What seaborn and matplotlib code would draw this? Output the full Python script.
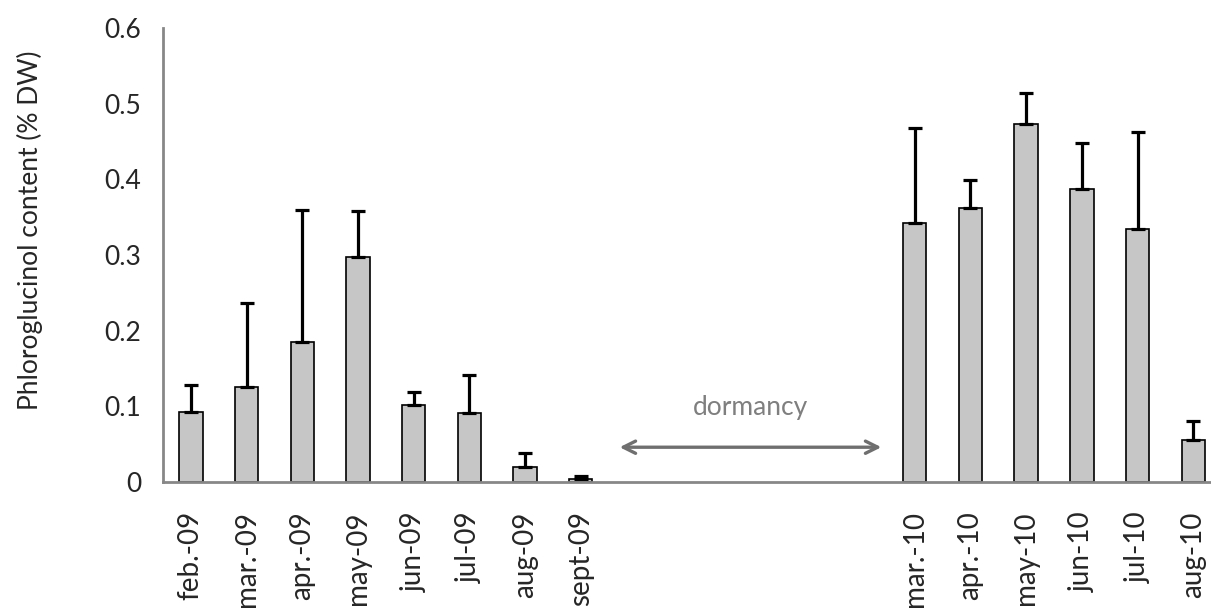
import numpy as np
import pandas as pd
import matplotlib
matplotlib.use("Agg")
import matplotlib.pyplot as plt
import seaborn as sns

# Months on the category axis (gap months have no sample)
months = [
    "feb.-09", "mar.-09", "apr.-09", "may-09", "jun.-09", "jul.-09",
    "aug.-09", "sept-09", "oct.-09", "nov.-09", "dec.-09", "jan.-10",
    "feb.-10", "mar.-10", "apr.-10", "may-10", "jun.-10", "jul.-10",
    "aug.-10",
]

tick_labels = [
    "feb.-09", "mar.-09", "apr.-09", "may-09", "jun-09", "jul-09",
    "aug-09", "sept-09", "", "", "", "", "",
    "mar.-10", "apr.-10", "may-10", "jun-10", "jul-10", "aug-10",
]

# Mean phloroglucinol content (% DW)
content = [
    0.092, 0.126, 0.185, 0.297, 0.102, 0.091, 0.020, 0.004,
    np.nan, np.nan, np.nan, np.nan, np.nan,
    0.342, 0.362, 0.473, 0.387, 0.334, 0.055,
]

# Upper error (SD)
error = [
    0.036, 0.111, 0.175, 0.061, 0.017, 0.050, 0.019, 0.004,
    np.nan, np.nan, np.nan, np.nan, np.nan,
    0.126, 0.037, 0.041, 0.061, 0.128, 0.025,
]

df = pd.DataFrame({"month": months, "content": content, "error": error})

# Style
axis_gray = "#878787"
font_list = ["Lato", "DejaVu Sans"]
fs = 19

sns.set_style("white")
plt.rcParams["font.family"] = font_list

fig = plt.figure(figsize=(12.11, 6.08), dpi=100)

ax = fig.add_axes([0.1346, 0.2072, 0.8737, 0.7467])

plot_df = df.dropna(subset=["content"])

sns.barplot(
    data=plot_df,
    x="month",
    y="content",
    order=months,
    color="#c6c6c6",
    saturation=1,
    width=0.42,
    edgecolor="black",
    linewidth=1.2,
    errorbar=None,
    ax=ax,
)

# Upper-only error bars
pos = np.array([months.index(m) for m in plot_df["month"]])
vals = plot_df["content"].to_numpy()
errs = plot_df["error"].to_numpy()

ax.errorbar(
    pos,
    vals,
    yerr=[np.zeros_like(errs), errs],
    fmt="none",
    ecolor="black",
    elinewidth=2.3,
    capsize=5,
    capthick=2.3,
    zorder=1,
)

# Axes
ax.set_xlim(-0.5, len(months) - 0.5)
ax.set_ylim(0, 0.6)

ax.set_yticks([0, 0.1, 0.2, 0.3, 0.4, 0.5, 0.6])
ax.set_yticklabels(["0", "0.1", "0.2", "0.3", "0.4", "0.5", "0.6"], fontsize=fs)

ax.set_xticks(np.arange(-0.5, len(months), 1))
ax.set_xticklabels([])
ax.set_xticks(np.arange(len(months)), minor=True)
ax.set_xticklabels(tick_labels, minor=True, rotation=90, fontsize=fs + 1)

ax.tick_params(axis="x", which="major", length=7.5, width=2, color=axis_gray, direction="out")
ax.tick_params(axis="x", which="minor", length=0, pad=21)
ax.tick_params(axis="y", length=7.5, width=2, color=axis_gray, direction="out", pad=8)

for side in ["top", "right"]:
    ax.spines[side].set_visible(False)

for side in ["left", "bottom"]:
    ax.spines[side].set_color(axis_gray)
    ax.spines[side].set_linewidth(2)

ax.set_xlabel("")
ax.set_ylabel("Phloroglucinol content (% DW)", fontsize=fs)
ax.yaxis.set_label_coords(-0.113, 0.555)

# Dormancy annotation
ax.annotate(
    "",
    xy=(7.65, 0.046),
    xytext=(12.45, 0.046),
    arrowprops=dict(arrowstyle="<->", color="#6f6f6f", lw=2.4, mutation_scale=22),
)

ax.text(
    10.05,
    0.098,
    "dormancy",
    ha="center",
    va="center",
    color="#7f7f7f",
    fontsize=fs,
)

plt.savefig("out.png", dpi=100)
plt.close()
